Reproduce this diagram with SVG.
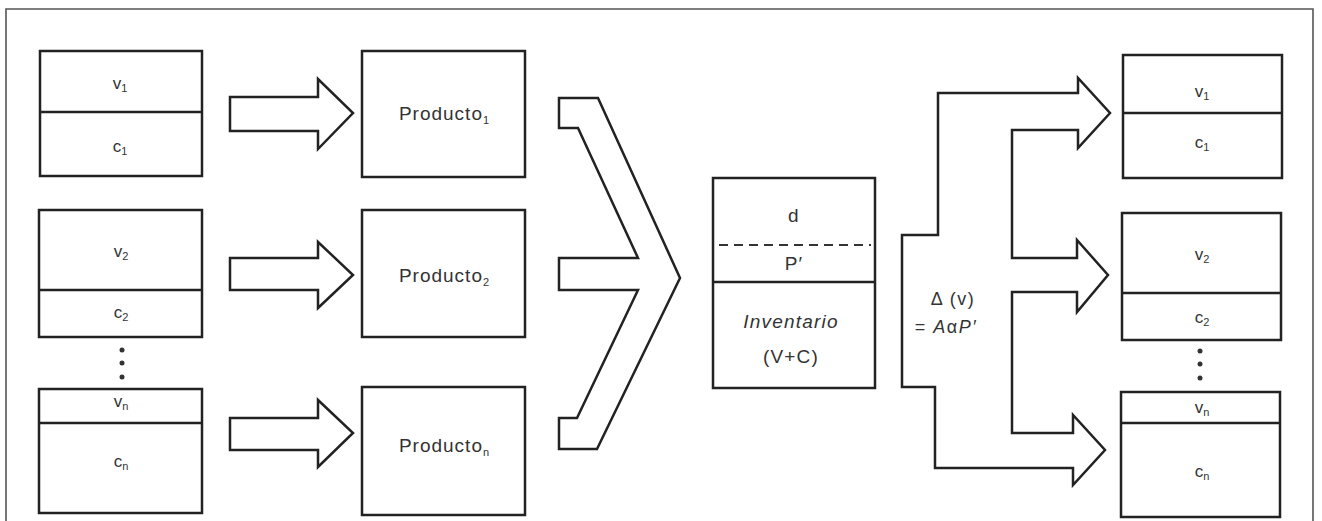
<svg xmlns="http://www.w3.org/2000/svg" width="1322" height="521" viewBox="0 0 1322 521">
<style>
.box{fill:#fff;stroke:#222;stroke-width:2.5}
.div{stroke:#222;stroke-width:2.5;fill:none}
.arr{fill:#fff;stroke:#222;stroke-width:2.5;stroke-linejoin:miter}
.lbl{font-family:"Liberation Sans",Arial,sans-serif;font-size:17px;fill:#333;text-anchor:middle}
.mid{font-family:"Liberation Sans",Arial,sans-serif;font-size:19px;letter-spacing:1.2px;fill:#333;text-anchor:middle}
.eq{font-family:"Liberation Sans",Arial,sans-serif;font-size:18px;letter-spacing:1.5px;fill:#333;text-anchor:middle}
.prod{font-family:"Liberation Sans",Arial,sans-serif;font-size:19px;letter-spacing:1px;fill:#333;text-anchor:middle}
.sub{font-size:11px;letter-spacing:0}
.dot{fill:#333}
</style>
<rect width="1322" height="521" fill="#fff"/>
<path d="M6,521 L6,9 L1313,9 L1313,521" fill="none" stroke="#555" stroke-width="1.6"/>

<g id="left1">
<rect class="box" x="40" y="51" width="162" height="125"/>
<line class="div" x1="40" y1="112" x2="202" y2="112"/>
<text class="lbl" x="120" y="89">v<tspan class="sub" dy="3">1</tspan></text>
<text class="lbl" x="120" y="152">c<tspan class="sub" dy="3">1</tspan></text>
</g>
<g id="left2">
<rect class="box" x="39" y="210" width="163" height="127"/>
<line class="div" x1="39" y1="290" x2="202" y2="290"/>
<text class="lbl" x="121" y="257">v<tspan class="sub" dy="3">2</tspan></text>
<text class="lbl" x="121" y="318">c<tspan class="sub" dy="3">2</tspan></text>
</g>
<g id="leftdots">
<circle class="dot" cx="122" cy="350" r="2.5"/>
<circle class="dot" cx="122" cy="363" r="2.5"/>
<circle class="dot" cx="122" cy="377" r="2.5"/>
</g>
<g id="leftn">
<rect class="box" x="39" y="389" width="163" height="124"/>
<line class="div" x1="39" y1="423" x2="202" y2="423"/>
<text class="lbl" x="121" y="407">v<tspan class="sub" dy="3">n</tspan></text>
<text class="lbl" x="121" y="467">c<tspan class="sub" dy="3">n</tspan></text>
</g>

<g id="prod1">
<rect class="box" x="362" y="51" width="163" height="126"/>
<text class="prod" x="444" y="120">Producto<tspan class="sub" dy="4">1</tspan></text>
</g>
<g id="prod2">
<rect class="box" x="362" y="210" width="163" height="127"/>
<text class="prod" x="444" y="282">Producto<tspan class="sub" dy="4">2</tspan></text>
</g>
<g id="prodn">
<rect class="box" x="362" y="387" width="163" height="128"/>
<text class="prod" x="444" y="452">Producto<tspan class="sub" dy="4">n</tspan></text>
</g>

<g id="center">
<rect class="box" x="713" y="178" width="162" height="210"/>
<line x1="719" y1="245" x2="871" y2="245" stroke="#333" stroke-width="2" stroke-dasharray="9,6"/>
<line class="div" x1="713" y1="282" x2="875" y2="282"/>
<text class="mid" x="794" y="222">d</text>
<text class="mid" x="794" y="270">P′</text>
<text class="mid" x="791" y="328" font-style="italic">Inventario</text>
<text class="mid" x="791" y="363">(V+C)</text>
</g>

<g id="right1">
<rect class="box" x="1123" y="55" width="159" height="123"/>
<line class="div" x1="1123" y1="113" x2="1282" y2="113"/>
<text class="lbl" x="1202" y="97">v<tspan class="sub" dy="3">1</tspan></text>
<text class="lbl" x="1202" y="148">c<tspan class="sub" dy="3">1</tspan></text>
</g>
<g id="right2">
<rect class="box" x="1122" y="213" width="159" height="127"/>
<line class="div" x1="1122" y1="293" x2="1281" y2="293"/>
<text class="lbl" x="1202" y="260">v<tspan class="sub" dy="3">2</tspan></text>
<text class="lbl" x="1202" y="323">c<tspan class="sub" dy="3">2</tspan></text>
</g>
<g id="rightdots">
<circle class="dot" cx="1200" cy="351" r="2.5"/>
<circle class="dot" cx="1200" cy="364" r="2.5"/>
<circle class="dot" cx="1200" cy="378" r="2.5"/>
</g>
<g id="rightn">
<rect class="box" x="1121" y="392" width="159" height="125"/>
<line class="div" x1="1121" y1="423" x2="1280" y2="423"/>
<text class="lbl" x="1202" y="413">v<tspan class="sub" dy="3">n</tspan></text>
<text class="lbl" x="1202" y="477">c<tspan class="sub" dy="3">n</tspan></text>
</g>

<g id="connectors">
<path class="arr" d="M230,97 L318,97 L318,79 L353,113 L318,149 L318,131 L230,131 Z"/>
<path class="arr" d="M230,258 L318,258 L318,242 L353,275 L318,308 L318,290 L230,290 Z"/>
<path class="arr" d="M230,418 L318,418 L318,400 L353,433 L318,467 L318,450 L230,450 Z"/>
<path class="arr" d="M559,98 L598,98 L680,278 L597,449 L559,449 L559,418 L577,418 L638,290 L559,290 L559,258 L638,258 L578,128 L559,128 Z"/>
<path class="arr" d="M902,235 L938,235 L938,93 L1078,93 L1078,78 L1110,113 L1078,148 L1078,130 L1012,130 L1012,258 L1077,258 L1077,240 L1108,275 L1077,312 L1077,292 L1012,292 L1012,433 L1073,433 L1073,415 L1105,450 L1073,485 L1073,468 L935,468 L935,387 L902,387 Z"/>
<text class="eq" x="953" y="305">Δ (v)</text>
<text class="eq" x="946" y="333">= <tspan font-style="italic">A</tspan>α<tspan font-style="italic">P′</tspan></text>
</g>
</svg>
